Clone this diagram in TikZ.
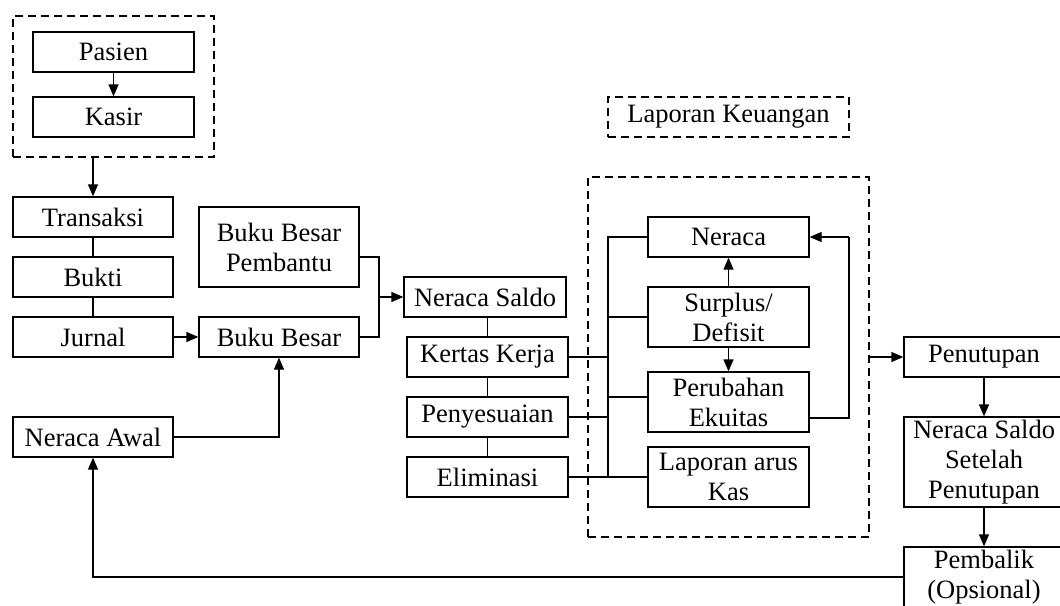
\documentclass[tikz,border=0pt]{standalone}
\usepackage{fontspec}
\setmainfont{Liberation Serif}
\usetikzlibrary{arrows.meta,calc}
\begin{document}
\begin{tikzpicture}[x=1pt,y=-1pt,
  line width=1.3pt,
  every node/.style={font=\fontsize{26.5}{30}\selectfont, inner sep=0pt, align=center},
  box/.style={draw, minimum width=160pt, minimum height=40pt},
  tall/.style={box, minimum height=60pt},
  grp/.style={draw, dash pattern=on 8pt off 5pt, inner sep=0pt},
  arr/.style={-{Triangle[length=12pt,width=10pt]}}
]
\useasboundingbox (0,0) rectangle (1060,605);
\clip (0,0) rectangle (1060,605);
% left group
\node[grp, minimum width=201pt, minimum height=141pt] (grp1) at (113.5,86.5) {};
\node[box, minimum width=161pt] (pasien) at (113.5,52) {Pasien};
\node[box, minimum width=161pt] (kasir) at (113.5,117) {Kasir};
\node[box] (transaksi) at (93,217) {Transaksi};
\node[box] (bukti) at (93,277) {Bukti};
\node[box] (jurnal) at (93,337) {Jurnal};
\node[box, minimum height=80pt] (bbp) at (279,247) {Buku Besar\\Pembantu};
\node[box] (bb) at (279,337) {Buku Besar};
\node[box] (nawal) at (93,437) {Neraca Awal};
% middle
\node[box, minimum width=162pt] (nsaldo) at (485,297) {Neraca Saldo};
\node[box, minimum width=161pt] (kertas) at (487.5,357) {Kertas Kerja};
\node[box, minimum width=161pt] (penyes) at (487.5,417) {Penyesuaian};
\node[box, minimum width=161pt] (elim) at (487.5,477) {Eliminasi};
% laporan keuangan
\node[grp, minimum width=241pt, minimum height=40pt] (lk) at (728.5,117) {Laporan Keuangan};
\node[grp, minimum width=281pt, minimum height=360pt] (grp2) at (728.5,357) {};
\node[box, minimum width=161pt] (neraca) at (728.5,237) {Neraca};
\node[tall, minimum width=161pt] (surplus) at (728.5,317) {Surplus/\\Defisit};
\node[tall, minimum width=161pt] (perub) at (728.5,402) {Perubahan\\Ekuitas};
\node[tall, minimum width=161pt] (lak) at (728.5,477) {Laporan arus\\Kas};
% right
\node[box] (penutupan) at (984,357) {Penutupan};
\node[box, minimum height=90pt] (nssp) at (984,462) {Neraca Saldo\\Setelah\\Penutupan};
\node[tall] (pembalik) at (984,577) {Pembalik\\(Opsional)};
% coordinates
\coordinate (j) at (379,297);
\coordinate (bt) at (608,237);
\coordinate (bbot) at (608,477);
\coordinate (loop) at (849,237);
% connectors
\draw[arr] (pasien.south) -- (kasir.north);
\draw[arr] (transaksi.north |- grp1.south) -- (transaksi.north);
\draw (transaksi.south) -- (bukti.north);
\draw (bukti.south) -- (jurnal.north);
\draw[arr] (jurnal.east) -- (bb.west);
\draw ([yshift=-10pt]bbp.east) -| (j);
\draw (bb.east) -| (j);
\draw[arr] (j) -- (nsaldo.west);
\draw[arr] (nawal.east) -| (bb.south);
\draw (kertas.north) -- (kertas.north |- nsaldo.south);
\draw (kertas.south) -- (penyes.north);
\draw (penyes.south) -- (elim.north);
\draw (neraca.west) -| (bt) -- (bbot);
\draw (elim.east) -- (lak.west);
\draw (kertas.east) -- (kertas.east -| bt);
\draw (penyes.east) -- (penyes.east -| bt);
\draw (surplus.west) -- (surplus.west -| bt);
\draw ([yshift=5pt]perub.west) -- ([yshift=5pt]perub.west -| bt);
\draw[arr] (surplus.north) -- (neraca.south);
\draw[arr] (surplus.south) -- (perub.north);
\draw ([yshift=-16pt]perub.east) -| (loop);
\draw[arr] (loop) -- (neraca.east);
\draw[arr] (grp2.east |- penutupan.west) -- (penutupan.west);
\draw[arr] (penutupan.south) -- (nssp.north);
\draw[arr] (nssp.south) -- (pembalik.north);
\draw[arr] (pembalik.west) -| (nawal.south);
\end{tikzpicture}
\end{document}
